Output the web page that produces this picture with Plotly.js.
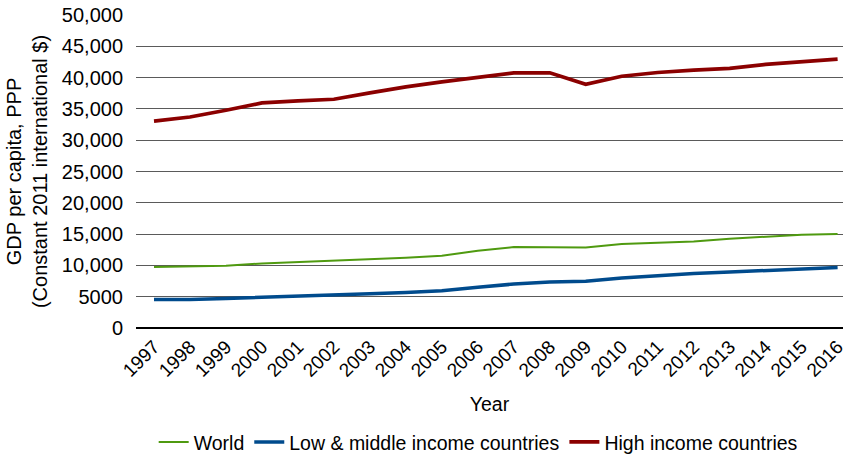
<!DOCTYPE html>
<html>
<head>
<meta charset="utf-8">
<script src="https://cdn.plot.ly/plotly-3.0.1.min.js"></script>
<style>html,body{margin:0;padding:0;background:#fff;}#chart{width:847px;height:459px;}</style>
</head>
<body>
<div id="chart"></div>
<script>
const years = [1997,1998,1999,2000,2001,2002,2003,2004,2005,2006,2007,2008,2009,2010,2011,2012,2013,2014,2015,2016];
const world = [9730,9790,9950,10320,10530,10740,10960,11220,11540,12340,12930,12870,12870,13400,13620,13830,14260,14630,14890,15000];
const lowMiddle = [4570,4570,4730,4950,5100,5270,5480,5690,5960,6520,7020,7340,7450,7980,8400,8720,8940,9200,9470,9680];
const highIncome = [33060,33700,34780,35950,36270,36540,37550,38510,39310,40050,40760,40760,38940,40220,40820,41190,41460,42100,42520,42950];
const yTickVals = [0,5000,10000,15000,20000,25000,30000,35000,40000,45000,50000];
const yTickText = ['0','5000','10,000','15,000','20,000','25,000','30,000','35,000','40,000','45,000','50,000'];

const FONT = 'Liberation Sans, Arial, sans-serif';
const traces = [
  {x: years, y: world, name: 'World', type: 'scatter', mode: 'lines', line: {color: '#4f9a10', width: 2}},
  {x: years, y: lowMiddle, name: 'Low & middle income countries', type: 'scatter', mode: 'lines', line: {color: '#004b8d', width: 3.5}},
  {x: years, y: highIncome, name: 'High income countries', type: 'scatter', mode: 'lines', line: {color: '#8b0000', width: 3.7}}
];
const layout = {
  width: 847, height: 459,
  margin: {l: 136, r: 4, t: 15, b: 130.5, autoexpand: false},
  paper_bgcolor: '#fff', plot_bgcolor: '#fff',
  font: {family: FONT, size: 20, color: '#000'},
  showlegend: true,
  legend: {orientation: 'h', x: 0.484, xanchor: 'center', y: -0.365, yanchor: 'middle', font: {size: 19.5}, traceorder: 'normal', itemwidth: 30},
  xaxis: {
    range: [1996.5, 2016.15], tickvals: years, ticktext: years.map(String), tickangle: -45,
    showgrid: false, zeroline: false, showline: false, ticks: '', ticklabelstandoff: 3,
    ticklabeloverflow: 'allow', automargin: false,
    tickfont: {size: 19},
    title: {text: 'Year', font: {size: 19.5}, standoff: 17}
  },
  yaxis: {
    range: [0, 50000], tickvals: yTickVals, ticktext: yTickText,
    showgrid: true, gridcolor: '#5a5a5a', gridwidth: 1,
    zeroline: true, zerolinecolor: '#000', zerolinewidth: 1.5,
    showline: false, ticks: '', ticklabelstandoff: 12, automargin: false,
    tickfont: {size: 20},
    title: {text: 'GDP per capita, PPP<br>(Constant 2011 international $)', font: {size: 20}, standoff: 8}
  }
};
Plotly.newPlot('chart', traces, layout, {displayModeBar: false, staticPlot: true});
</script>
</body>
</html>
